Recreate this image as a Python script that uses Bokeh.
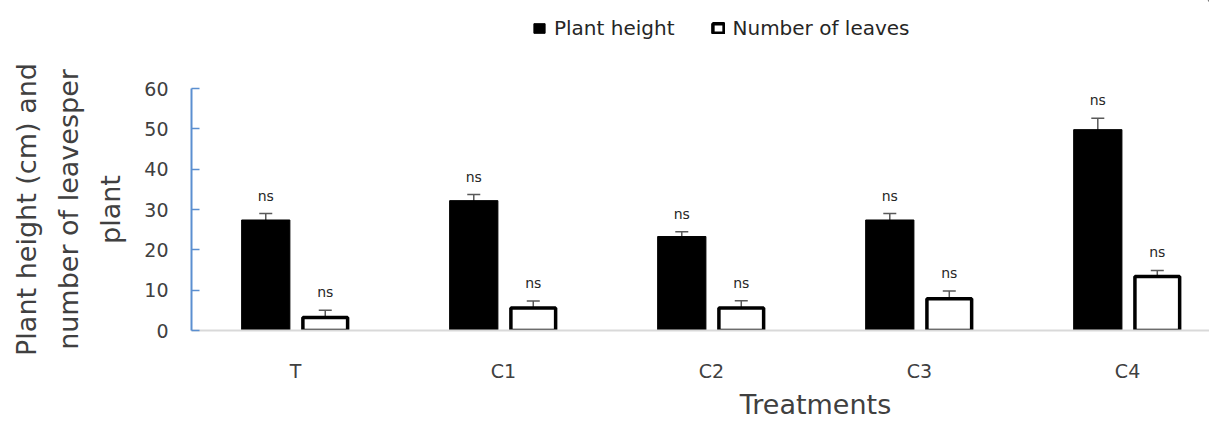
from bokeh.plotting import figure
from bokeh.layouts import column
from bokeh.models import (Range1d, FixedTicker, Whisker, ColumnDataSource,
                          Legend, LegendItem, TeeHead, LabelSet, LinearAxis)
from bokeh.core.properties import value
from bokeh.embed import file_html
from bokeh.resources import INLINE

treatments = ["T", "C1", "C2", "C3", "C4"]
plant_height = [27.4, 32.2, 23.3, 27.4, 49.8]
plant_height_err = [1.6, 1.5, 1.2, 1.6, 2.8]
num_leaves = [3.2, 5.6, 5.6, 7.9, 13.4]
num_leaves_err = [1.8, 1.7, 1.8, 1.9, 1.5]
sig_labels = ["ns", "ns", "ns", "ns", "ns"]
y_ticks = [0, 10, 20, 30, 40, 50, 60]
series_names = ["Plant height", "Number of leaves"]
x_title = "Treatments"
y_title = "Plant height (cm) and\nnumber of leavesper\nplant"

FONT = "DejaVu Sans"
TXT = "#404040"

centers = [i + 0.5 for i in range(len(treatments))]
off = 0.143
bw = 0.232
H_STYLE = dict(fill_color="black", line_color="black", line_width=1)
L_STYLE = dict(fill_color="white", line_color="black", line_width=3.5)

p = figure(width=1209, height=373, output_backend="svg", toolbar_location=None,
           x_range=Range1d(0, 4.894), y_range=Range1d(0, 60),
           min_border_left=191, min_border_right=0, min_border_top=38,
           min_border_bottom=93)
p.outline_line_color = None
p.xgrid.grid_line_color = None
p.ygrid.grid_line_color = None

src_h = ColumnDataSource(dict(
    x=[c - off for c in centers], top=plant_height,
    lo=[v - e for v, e in zip(plant_height, plant_height_err)],
    hi=[v + e for v, e in zip(plant_height, plant_height_err)],
    lab=sig_labels))
src_l = ColumnDataSource(dict(
    x=[c + off for c in centers], top=num_leaves,
    lo=[v - e for v, e in zip(num_leaves, num_leaves_err)],
    hi=[v + e for v, e in zip(num_leaves, num_leaves_err)],
    lab=sig_labels))

p.vbar(x="x", top="top", bottom=0, width=bw, source=src_h, **H_STYLE)
p.vbar(x="x", top="top", bottom=0, width=bw - 0.017, source=src_l, **L_STYLE)

for src in (src_h, src_l):
    w = Whisker(base="x", upper="hi", lower="lo", source=src,
                line_color="#595959", line_width=1.5,
                upper_head=TeeHead(size=13, line_color="#595959", line_width=1.5),
                lower_head=TeeHead(size=13, line_color="#595959", line_width=1.5))
    p.add_layout(w)
    ls = LabelSet(x="x", y="hi", text="lab", source=src, text_align="center",
                  text_baseline="middle", y_offset=18, text_font=value(FONT),
                  text_font_size="14px", text_color="#262626")
    p.add_layout(ls)

# x axis
p.xaxis.ticker = FixedTicker(ticks=centers)
p.xaxis.major_label_overrides = {c: t for c, t in zip(centers, treatments)}
p.xaxis.major_tick_line_color = None
p.xaxis.major_tick_out = 0
p.xaxis.major_tick_in = 0
p.xaxis.minor_tick_line_color = None
p.xaxis.axis_line_color = "#d9d9d9"
p.xaxis.axis_line_width = 2
p.xaxis.major_label_text_font = FONT
p.xaxis.major_label_text_font_size = "19px"
p.xaxis.major_label_text_color = TXT
p.xaxis.major_label_standoff = 29

# x title as a second axis with one labelled tick
xt = LinearAxis(ticker=FixedTicker(ticks=[3.0]), major_label_overrides={3.0: x_title},
                axis_line_color=None, major_tick_line_color=None,
                minor_tick_line_color=None, major_tick_in=0, major_tick_out=0,
                major_label_standoff=4, major_label_text_font=FONT,
                major_label_text_font_size="27px", major_label_text_color=TXT)
p.add_layout(xt, "below")

# y axis
p.yaxis.ticker = FixedTicker(ticks=y_ticks)
p.yaxis.axis_line_color = "#5b8fd0"
p.yaxis.axis_line_width = 2
p.yaxis.major_tick_line_color = "#5b8fd0"
p.yaxis.major_tick_line_width = 1.5
p.yaxis.major_tick_in = 8
p.yaxis.major_tick_out = 0
p.yaxis.minor_tick_line_color = None
p.yaxis.major_label_text_font = FONT
p.yaxis.major_label_text_font_size = "19px"
p.yaxis.major_label_text_color = TXT
p.yaxis.major_label_standoff = 23
p.yaxis.axis_label = y_title
p.yaxis.axis_label_text_font = FONT
p.yaxis.axis_label_text_font_size = "27px"
p.yaxis.axis_label_text_font_style = "normal"
p.yaxis.axis_label_text_color = TXT
p.yaxis.axis_label_text_line_height = 1.36
p.yaxis.axis_label_standoff = 15

# legend strip above the chart (its frame is aligned with the chart's frame)
lf = figure(width=1209, height=50, output_backend="svg", toolbar_location=None,
            x_range=Range1d(0, 1), y_range=Range1d(0, 1),
            min_border_left=191, min_border_right=0, min_border_top=0,
            min_border_bottom=0)
lf.axis.visible = False
lf.grid.visible = False
lf.outline_line_color = None
g1 = lf.vbar(x=[5], top=[5], bottom=[4], width=0.1, **H_STYLE)
g2 = lf.vbar(x=[5], top=[5], bottom=[4], width=0.1, **L_STYLE)
legend = Legend(items=[LegendItem(label=series_names[0], renderers=[g1]),
                       LegendItem(label=series_names[1], renderers=[g2])],
                orientation="horizontal", location=(341, 10),
                glyph_width=14, glyph_height=12, label_text_font=FONT,
                label_text_font_size="20px", label_text_color="#262626",
                border_line_alpha=0, background_fill_alpha=0, padding=0,
                margin=0, spacing=36, label_standoff=8)
lf.add_layout(legend, "center")

layout = column(lf, p, spacing=0)
open("out.html", "w").write(file_html(layout, INLINE))
